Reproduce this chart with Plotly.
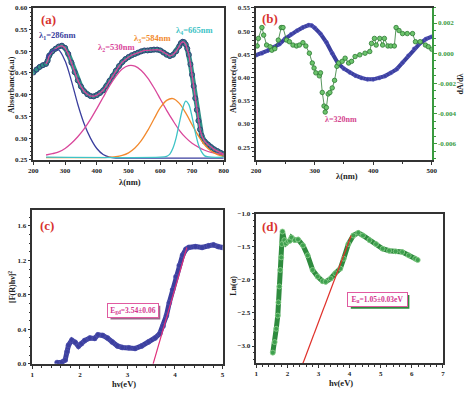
import plotly.graph_objects as go

W, H = 474, 394
FONT = "Liberation Serif"

# ---------------- Panel (a) data ----------------
lam_a = [200, 210, 220, 230, 240, 245, 250, 260, 270, 280, 290, 300, 310, 320, 330, 340, 350, 360,
         370, 380, 390, 400, 410, 420, 430, 440, 450, 460, 470, 480, 490, 500, 510, 520, 530, 540,
         550, 560, 570, 580, 590, 600, 610, 620, 630, 640, 650, 660, 665, 670, 675, 680, 685, 690,
         695, 700, 705, 710, 715, 720, 725, 730, 740, 750, 760, 770, 780, 790, 800]
abs_a = [0.451, 0.458, 0.464, 0.468, 0.471, 0.478, 0.490, 0.500, 0.506, 0.511, 0.513, 0.508, 0.494,
         0.474, 0.452, 0.433, 0.419, 0.408, 0.401, 0.397, 0.396, 0.399, 0.404, 0.410, 0.420, 0.432,
         0.443, 0.455, 0.466, 0.475, 0.482, 0.487, 0.491, 0.494, 0.497, 0.500, 0.502, 0.502, 0.503,
         0.504, 0.504, 0.502, 0.497, 0.492, 0.489, 0.492, 0.500, 0.512, 0.519, 0.522, 0.521, 0.516,
         0.506, 0.492, 0.470, 0.446, 0.420, 0.392, 0.365, 0.340, 0.320, 0.306, 0.292, 0.285, 0.279,
         0.274, 0.270, 0.266, 0.263]

comp_lam = [240, 260, 280, 300, 320, 340, 360, 380, 400, 420, 440, 460, 480, 500, 520, 540, 560,
            580, 600, 620, 640, 660, 680, 700, 720, 740, 760, 780, 800]
peak1 = [0.485, 0.501, 0.503, 0.478, 0.432, 0.378, 0.333, 0.300, 0.276, 0.262, 0.256, 0.254, 0.254,
         0.254, 0.254, 0.254, 0.254, 0.254, 0.254, 0.254, 0.254, 0.254, 0.254, 0.254, 0.254, 0.254,
         0.254, 0.254, 0.254]
peak2 = [0.261, 0.264, 0.268, 0.276, 0.288, 0.303, 0.321, 0.343, 0.368, 0.394, 0.420, 0.442, 0.459,
         0.467, 0.466, 0.456, 0.439, 0.416, 0.390, 0.364, 0.340, 0.318, 0.301, 0.288, 0.279, 0.272,
         0.267, 0.264, 0.262]
peak3 = [0.255, 0.255, 0.255, 0.255, 0.255, 0.255, 0.255, 0.255, 0.255, 0.255, 0.256, 0.257, 0.260,
         0.266, 0.277, 0.294, 0.317, 0.344, 0.370, 0.387, 0.391, 0.380, 0.358, 0.331, 0.305, 0.284,
         0.270, 0.262, 0.258]
peak4_lam = [240, 600, 620, 630, 640, 650, 660, 670, 680, 690, 700, 710, 720, 730, 740, 760, 800]
peak4 = [0.256, 0.256, 0.258, 0.263, 0.277, 0.301, 0.335, 0.367, 0.385, 0.377, 0.349, 0.314, 0.285,
         0.268, 0.259, 0.256, 0.256]

# ---------------- Panel (b) data ----------------
lam_b = [200, 210, 220, 230, 240, 250, 260, 270, 280, 290, 295, 300, 310, 320, 330, 340, 350, 360,
         370, 380, 390, 400, 410, 420, 430, 440, 450, 460, 470, 480, 490, 500]
abs_b = [0.448, 0.452, 0.458, 0.465, 0.472, 0.484, 0.493, 0.501, 0.508, 0.513, 0.512, 0.507, 0.494,
         0.476, 0.452, 0.430, 0.419, 0.411, 0.404, 0.399, 0.396, 0.396, 0.399, 0.403, 0.410, 0.418,
         0.432, 0.447, 0.462, 0.474, 0.483, 0.488]
lam_d = [202, 204, 210, 213, 218, 224, 227, 232, 238, 243, 246, 252, 257, 263, 269, 274, 280, 285,
         291, 296, 299, 302, 308, 310, 313, 316, 318, 320, 323, 326, 330, 334, 338, 341, 347, 352,
         358, 363, 369, 377, 386, 394, 397, 402, 405, 411, 416, 419, 425, 430, 436, 439, 444, 450,
         458, 467, 472, 480, 489, 494, 500]
dadl = [0.00048, 0.00098, 0.0017, 0.0012, 0.00054, 0.00043, 0.0002, 0.0003, 0.00087, 0.0017,
        0.0017, 0.00087, 0.00076, 0.00054, 0.00048, 0.00054, 0.0007, 0.00048, 0.0, -0.00065,
        -0.00098, -0.0013, -0.0015, -0.0013, -0.0026, -0.0035, -0.0039, -0.0036, -0.0027, -0.0026,
        -0.0023, -0.0018, -0.00087, -0.00065, -0.00054, -0.00033, -0.00065, -0.00054, -0.00022,
        -0.00011, 0.0, 0.00011, 0.00065, 0.00098, 0.00054, 0.00098, 0.00054, 0.00098, 0.00048,
        0.00048, 0.00048, 0.0017, 0.0015, 0.0013, 0.0013, 0.0013, 0.00076, 0.00076, 0.00054,
        0.00043, 0.00026]

# ---------------- Panel (c) data ----------------
e_c = [1.52, 1.62, 1.69, 1.73, 1.76, 1.83, 1.90, 1.97, 2.03, 2.10, 2.21, 2.31, 2.38, 2.48, 2.58,
       2.68, 2.79, 2.89, 3.03, 3.16, 3.30, 3.44, 3.58, 3.68, 3.75, 3.82, 3.88, 3.95, 4.02, 4.09,
       4.16, 4.23, 4.29, 4.43, 4.57, 4.71, 4.81, 4.91, 5.00]
f_c = [0.015, 0.018, 0.045, 0.14, 0.216, 0.275, 0.25, 0.205, 0.234, 0.27, 0.30, 0.295, 0.337, 0.33,
       0.30, 0.254, 0.208, 0.19, 0.186, 0.178, 0.208, 0.254, 0.30, 0.35, 0.44, 0.56, 0.71, 0.86,
       1.01, 1.14, 1.26, 1.33, 1.35, 1.36, 1.35, 1.37, 1.38, 1.36, 1.35]
fit_c_x = [3.54, 4.25]
fit_c_y = [0.0, 1.35]

# ---------------- Panel (d) data ----------------
e_d = [1.53, 1.59, 1.64, 1.69, 1.71, 1.74, 1.77, 1.80, 1.82, 1.84, 1.90, 1.95, 2.02, 2.08, 2.13,
       2.24, 2.34, 2.50, 2.65, 2.81, 2.97, 3.13, 3.23, 3.39, 3.54, 3.70, 3.81, 3.96, 4.12, 4.28,
       4.43, 4.64, 4.85, 5.06, 5.27, 5.48, 5.69, 5.90, 6.11, 6.19]
ln_d = [-3.10, -2.94, -2.74, -2.54, -2.34, -2.10, -1.85, -1.66, -1.46, -1.27, -1.40, -1.45, -1.42,
        -1.41, -1.36, -1.40, -1.39, -1.48, -1.63, -1.85, -1.95, -2.02, -2.03, -1.98, -1.90, -1.83,
        -1.68, -1.46, -1.33, -1.29, -1.33, -1.40, -1.46, -1.53, -1.56, -1.57, -1.58, -1.63, -1.68,
        -1.70]
fit_d_x = [2.50, 4.05]
fit_d_y = [-3.26, -1.33]

# ---------------- Colors ----------------
TEAL = "#2f8f86"
DBLUE = "#3b3f9e"
PINK = "#d9479b"
ORANGE = "#f28a2e"
CYAN = "#3ec3c6"
GREEN = "#3a9a3f"
RED = "#d8332f"

fig = go.Figure()

# (a)
fig.add_trace(go.Scatter(x=lam_a, y=abs_a, mode="lines+markers", xaxis="x", yaxis="y",
                         line=dict(color=TEAL, width=5),
                         marker=dict(size=5, color=TEAL, line=dict(color="#34407a", width=1))))
fig.add_trace(go.Scatter(x=lam_a[4:], y=abs_a[4:], mode="lines", xaxis="x", yaxis="y",
                         line=dict(color=PINK, width=1.3)))
for lx, ly, col in [(comp_lam, peak1, DBLUE), (comp_lam, peak2, PINK), (comp_lam, peak3, ORANGE),
                    (peak4_lam, peak4, CYAN)]:
    fig.add_trace(go.Scatter(x=lx, y=ly, mode="lines", xaxis="x", yaxis="y",
                             line=dict(color=col, width=1.3, shape="spline", smoothing=0.8)))

# (b)
fig.add_trace(go.Scatter(x=lam_b, y=abs_b, mode="lines+markers", xaxis="x2", yaxis="y2",
                         line=dict(color=DBLUE, width=4),
                         marker=dict(size=4, color=DBLUE, line=dict(color="#6a6ad0", width=0.5))))
fig.add_trace(go.Scatter(x=lam_d, y=dadl, mode="lines+markers", xaxis="x2", yaxis="y3",
                         line=dict(color="#2d7a33", width=0.8),
                         marker=dict(size=4.5, color="#6cc46c", line=dict(color="#2d7a33", width=0.8))))

# (c)
fig.add_trace(go.Scatter(x=e_c, y=f_c, mode="lines+markers", xaxis="x3", yaxis="y4",
                         line=dict(color=DBLUE, width=5),
                         marker=dict(size=5, color=DBLUE, line=dict(color="#5a5ab8", width=0.5))))
fig.add_trace(go.Scatter(x=fit_c_x, y=fit_c_y, mode="lines", xaxis="x3", yaxis="y4",
                         line=dict(color="#e0307a", width=1.2)))

# (d)
fig.add_trace(go.Scatter(x=e_d, y=ln_d, mode="lines+markers", xaxis="x4", yaxis="y5",
                         line=dict(color="#2e8b3e", width=5),
                         marker=dict(size=5, color="#3fa04f", line=dict(color="#8fd08f", width=0.8))))
fig.add_trace(go.Scatter(x=fit_d_x, y=fit_d_y, mode="lines", xaxis="x4", yaxis="y5",
                         line=dict(color="#e0302a", width=1.2)))


def axis(**kw):
    base = dict(showline=True, linecolor="#333", linewidth=1.5, mirror=True, ticks="outside",
                ticklen=3, tickwidth=1, tickcolor="#333", showgrid=False, zeroline=False,
                tickfont=dict(family=FONT, size=7, color="#222", weight="bold"),
                minor=dict(ticks="outside", ticklen=2, tickcolor="#333"))
    base.update(kw)
    return base


def dom_x(a, b):
    return [a / W, b / W]


def dom_y(top, bottom):
    return [1 - bottom / H, 1 - top / H]


fig.update_layout(
    width=W, height=H, margin=dict(l=0, r=0, t=0, b=0),
    paper_bgcolor="white", plot_bgcolor="white", showlegend=False,
    xaxis=axis(domain=dom_x(29, 224), anchor="y", range=[200, 800], dtick=100,
               minor=dict(ticks="outside", ticklen=2, dtick=50, tickcolor="#333")),
    yaxis=axis(domain=dom_y(4, 159), anchor="x", range=[0.25, 0.60], dtick=0.05, tickformat=".2f"),
    xaxis2=axis(domain=dom_x(257, 437), anchor="y2", range=[200, 500], dtick=100,
                minor=dict(ticks="outside", ticklen=2, dtick=50, tickcolor="#333")),
    yaxis2=axis(domain=dom_y(4, 159), anchor="x2", range=[0.2226, 0.55], dtick=0.05,
                tickformat=".2f", mirror=False,
                tickfont=dict(family=FONT, size=7, color="#333", weight="bold")),
    yaxis3=axis(overlaying="y2", side="right", anchor="x2", range=[-0.00706, 0.003],
                tickvals=[-0.006, -0.004, -0.002, 0.0, 0.002],
                ticktext=["-0.006", "-0.004", "-0.002", "0.000", "0.002"],
                linecolor=GREEN, tickcolor=GREEN, mirror=False,
                tickfont=dict(family=FONT, size=7, color=GREEN, weight="bold"),
                minor=dict(ticks="outside", ticklen=2, tickcolor=GREEN)),
    xaxis3=axis(domain=dom_x(28, 222.7), anchor="y4", range=[1, 5], dtick=1),
    yaxis4=axis(domain=dom_y(210.7, 367.3), anchor="x3", range=[0, 1.78], dtick=0.4,
                tickformat=".1f"),
    xaxis4=axis(domain=dom_x(257.3, 448.3), anchor="y5", range=[1, 7], dtick=1),
    yaxis5=axis(domain=dom_y(214, 366.7), anchor="x4", range=[-3.26, -1.0], dtick=0.5,
                tickformat=".1f"),
)


def ann(x, y, text, size=8, color="#222", angle=0, **kw):
    d = dict(x=x / W, y=1 - y / H, xref="paper", yref="paper", text=text, showarrow=False,
             textangle=angle, xanchor="center", yanchor="middle",
             font=dict(family=FONT, size=size, color=color, weight="bold"))
    d.update(kw)
    fig.add_annotation(**d)


# panel labels
ann(45, 16, "(a)", 13, RED)
ann(271, 15, "(b)", 13, RED)
ann(43, 226, "(c)", 13, RED)
ann(271, 227, "(d)", 13, RED)

# peak labels
ann(54, 32, "λ<sub>1</sub>=286nm", 8.5, DBLUE)
ann(114, 44, "λ<sub>2</sub>=530nm", 8.5, PINK)
ann(151, 35, "λ<sub>3</sub>=584nm", 8.5, ORANGE)
ann(194, 27, "λ<sub>4</sub>=665nm", 8.5, CYAN)
ann(344, 118, "λ=320nm", 8, "#d4458f")

# axis titles
ann(6, 82, "Absorbance(a.u)", 8, "#222", -90)
ann(234, 82, "Absorbance(a.u)", 8, "#222", -90)
ann(466, 82, "dA/dλ", 8, "#222", -90)
ann(128, 182, "λ(nm)", 8.5)
ann(350, 176, "λ(nm)", 8.5)
ann(7, 289, "[F(R)hν]<sup>2</sup>", 8, "#222", -90)
ann(122, 388, "hν(eV)", 8.5)
ann(234, 288, "Ln(α)", 8, "#222", -90)
ann(344, 387, "hν(eV)", 8.5)

# boxes with shadow
fig.add_shape(type="rect", xref="paper", yref="paper", x0=108 / W, x1=159 / W,
              y0=1 - 322 / H, y1=1 - 308 / H, fillcolor="#9a6a8a", line=dict(width=0), layer="above")
ann(131.5, 313, "E<sub>gd</sub>=3.54±0.06", 7.5, "#d4358f", bgcolor="white",
    bordercolor="#e05aa0", borderwidth=1, borderpad=1, width=48, height=11)
fig.add_shape(type="rect", xref="paper", yref="paper", x0=354 / W, x1=414 / W,
              y0=1 - 311 / H, y1=1 - 297 / H, fillcolor="#2e8b3e", line=dict(width=0), layer="above")
ann(381.5, 301.5, "E<sub>u</sub>=1.05±0.03eV", 7.5, "#d4358f", bgcolor="white",
    bordercolor="#e05aa0", borderwidth=1, borderpad=1, width=57, height=11)

fig.write_html("out.html", config={"displayModeBar": False},
               post_script="document.body.style.margin='0px';document.body.style.overflow='hidden';")
